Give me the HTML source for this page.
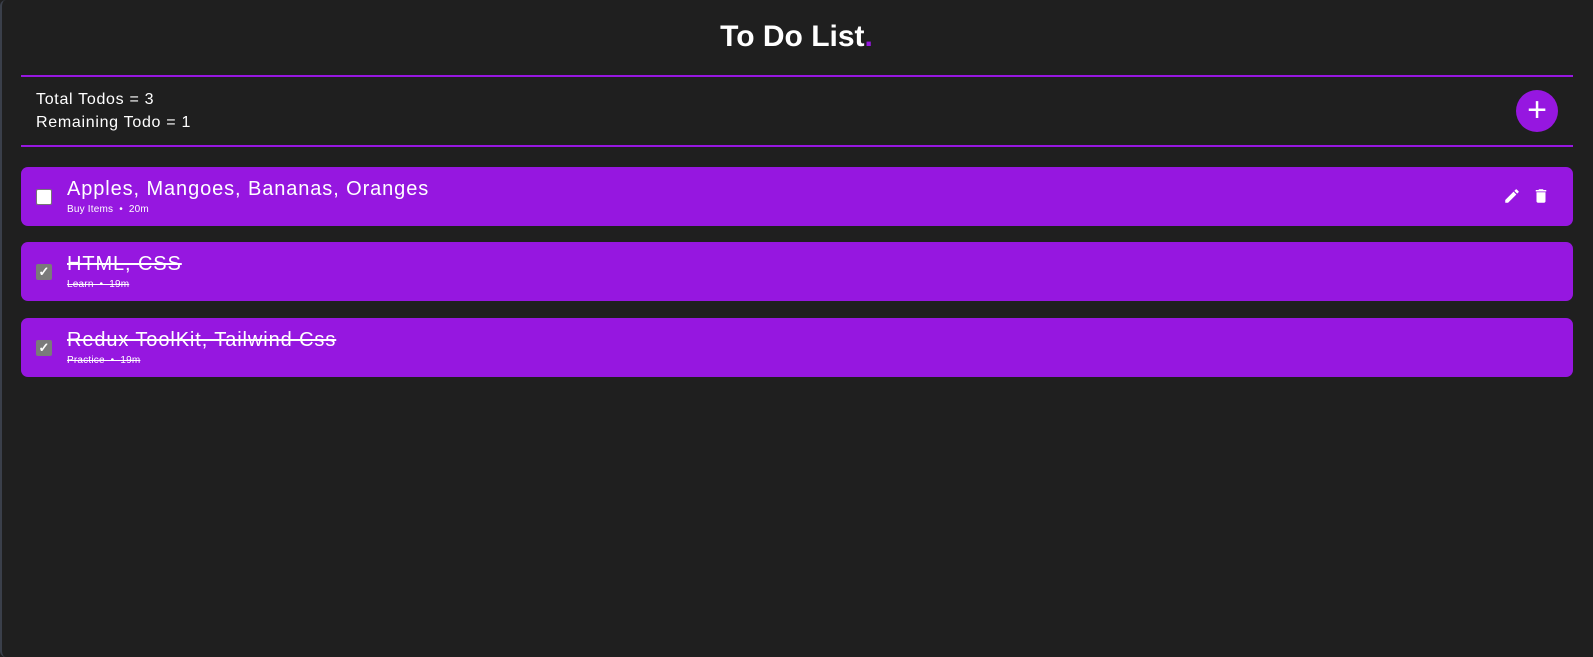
<!DOCTYPE html>
<html><head><meta charset="utf-8"><style>
*{box-sizing:border-box;margin:0;padding:0}
html,body{width:1593px;height:657px;background:#1f1f1f;overflow:hidden;font-family:"Liberation Sans",sans-serif;color:#fff}
.frame{position:absolute;left:0;top:0;width:1593px;height:657px;border-left:2px solid #3a3f4a;border-radius:6px}
.title{position:absolute;top:20px;left:0;width:1593px;text-align:center;font-size:30px;font-weight:bold}
.title span{color:#9617e0}
.line{position:absolute;left:21px;width:1552px;height:2px;background:#9617e0}
.stats{position:absolute;left:36px;top:88px;font-size:16px;line-height:23px;letter-spacing:0.7px}
.add{position:absolute;left:1516px;top:90px;width:42px;height:42px;border-radius:50%;background:#9617e0;color:#fff;font-size:34px;line-height:40px;text-align:center}
.card{position:absolute;left:21px;width:1552px;height:59px;background:#9617e0;border-radius:7px}
.cb{position:absolute;left:15px;top:22px;width:16px;height:16px;border-radius:2px;background:#fff;border:1px solid #777}
.cb.on{background:#7a7a7a;border-color:#7a7a7a;color:#fff;font-size:13px;line-height:14px;text-align:center;font-weight:bold}
.t{position:absolute;left:46px;top:11px;font-size:20px;white-space:nowrap;letter-spacing:0.9px}
.s{position:absolute;left:46px;top:37px;font-size:10px;white-space:nowrap;letter-spacing:0.2px}
.done .t,.done .s{text-decoration:line-through}
.icon{position:absolute;top:20px}
</style></head><body>
<div class="frame"></div>
<div class="title">To Do List<span>.</span></div>
<div class="line" style="top:75px"></div>
<div class="stats"><div>Total Todos = 3</div><div>Remaining Todo = 1</div></div>
<div class="add">+</div>
<div class="line" style="top:145px"></div>

<div class="card" style="top:167px">
 <div class="cb"></div>
 <div class="t">Apples, Mangoes, Bananas, Oranges</div>
 <div class="s">Buy Items &nbsp;•&nbsp; 20m</div>
 <svg class="icon" style="left:1482px" width="18" height="18" viewBox="0 0 24 24"><path fill="#fff" d="M3 17.25V21h3.75L17.81 9.940l-3.75-3.75L3 17.25zM20.71 7.04a1 1 0 0 0 0-1.41l-2.34-2.34a1 1 0 0 0-1.41 0l-1.83 1.83 3.75 3.75 1.83-1.83z"/></svg>
 <svg class="icon" style="left:1511px" width="18" height="18" viewBox="0 0 24 24"><path fill="#fff" d="M6 19c0 1.1.9 2 2 2h8c1.1 0 2-.9 2-2V7H6v12zM19 4h-3.5l-1-1h-5l-1 1H5v2h14V4z"/></svg>
</div>

<div class="card done" style="top:242px">
 <div class="cb on">✓</div>
 <div class="t">HTML, CSS</div>
 <div class="s">Learn &nbsp;•&nbsp; 19m</div>
</div>

<div class="card done" style="top:318px">
 <div class="cb on">✓</div>
 <div class="t">Redux ToolKit, Tailwind Css</div>
 <div class="s">Practice &nbsp;•&nbsp; 19m</div>
</div>
</body></html>
